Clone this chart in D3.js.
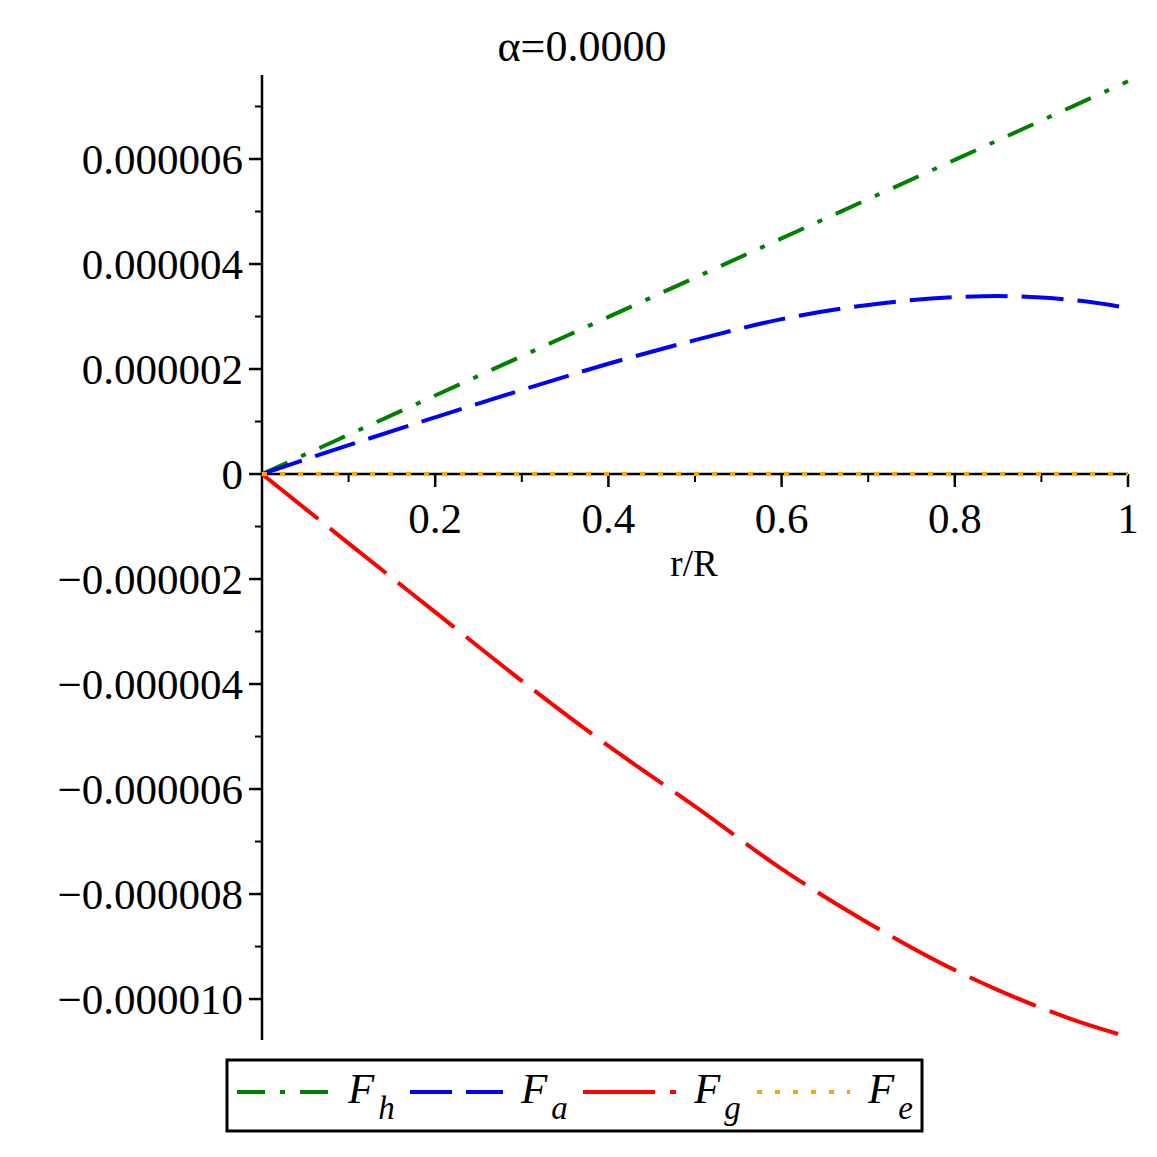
<!DOCTYPE html>
<html lang="en">
<head>
<meta charset="utf-8">
<title>alpha plot</title>
<script src="https://d3js.org/d3.v7.min.js"></script>
<style>
  body { margin: 0; background: #fff; }
  text { font-family: "Liberation Serif", "Times New Roman", serif; fill: #000; }
</style>
</head>
<body>
<div id="dataviz"></div>
<script>
// values (forces in units of 1, scaled by 1e-6 below)
var rVals = [0, 0.1, 0.2, 0.3, 0.4, 0.5, 0.6, 0.7, 0.8, 0.85, 0.9, 0.95, 1.0];
var Fh = [0, 0.748, 1.496, 2.244, 2.992, 3.74, 4.488, 5.236, 5.984, 6.358, 6.732, 7.106, 7.48];
var Fa = [0, 0.55, 1.08, 1.6, 2.1, 2.55, 2.95, 3.22, 3.37, 3.39, 3.36, 3.29, 3.16];
var Fg = [0, -1.32, -2.63, -3.94, -5.18, -6.33, -7.52, -8.55, -9.45, -9.83, -10.17, -10.47, -10.72];
var Fe = [0, 0, 0, 0, 0, 0, 0, 0, 0, 0, 0, 0, 0];

var yMajor = [-10, -8, -6, -4, -2, 0, 2, 4, 6];
var yMinor = [-9, -7, -5, -3, -1, 1, 3, 5, 7];
var xMajor = [0.2, 0.4, 0.6, 0.8, 1];
var xMinor = [0.1, 0.3, 0.5, 0.7, 0.9];

var seriesNames = ["F_h", "F_a", "F_g", "F_e"];
var seriesColors = ["#008000", "#0000ff", "#ff0000", "#ffa500"];
var seriesDash = ["28,15,5,15", "42,14", "72,15", "5,13"];

var W = 1157, H = 1157;
var svg = d3.select("#dataviz").append("svg")
    .attr("width", W).attr("height", H);

var x = d3.scaleLinear().domain([0, 1]).range([262, 1128]);
var y = d3.scaleLinear().domain([-10.78e-6, 7.6e-6]).range([1040, 75]);

// title
svg.append("text")
    .attr("x", 582).attr("y", 61)
    .attr("text-anchor", "middle")
    .style("font-size", "44px")
    .text("\u03b1=0.0000");

// y axis
var fmtY = function (v) {
    if (v === 0) return "0";
    var s = Math.abs(v * 1e-6).toFixed(6);
    return (v < 0 ? "\u2212" : "") + s;
};
var yAxis = svg.append("g").attr("transform", "translate(" + x(0) + ",0)");
yAxis.append("line")
    .attr("y1", y.range()[1]).attr("y2", y.range()[0])
    .attr("stroke", "#000").attr("stroke-width", 2.5);
yAxis.selectAll(".ymaj").data(yMajor).enter().append("line")
    .attr("x1", -13).attr("x2", 0)
    .attr("y1", function (d) { return y(d * 1e-6); })
    .attr("y2", function (d) { return y(d * 1e-6); })
    .attr("stroke", "#000").attr("stroke-width", 2.5);
yAxis.selectAll(".ymin").data(yMinor).enter().append("line")
    .attr("x1", -7).attr("x2", 0)
    .attr("y1", function (d) { return y(d * 1e-6); })
    .attr("y2", function (d) { return y(d * 1e-6); })
    .attr("stroke", "#000").attr("stroke-width", 2);
yAxis.selectAll(".ylab").data(yMajor).enter().append("text")
    .attr("x", -19)
    .attr("y", function (d) { return y(d * 1e-6); })
    .attr("dy", "0.34em")
    .attr("text-anchor", "end")
    .style("font-size", "43px")
    .text(fmtY);

// x axis
var xAxis = svg.append("g").attr("transform", "translate(0," + y(0) + ")");
xAxis.append("line")
    .attr("x1", x(0)).attr("x2", x(1))
    .attr("stroke", "#000").attr("stroke-width", 2.5);
xAxis.selectAll(".xmaj").data(xMajor).enter().append("line")
    .attr("x1", function (d) { return x(d); })
    .attr("x2", function (d) { return x(d); })
    .attr("y1", 0).attr("y2", 13)
    .attr("stroke", "#000").attr("stroke-width", 2.5);
xAxis.selectAll(".xmin").data(xMinor).enter().append("line")
    .attr("x1", function (d) { return x(d); })
    .attr("x2", function (d) { return x(d); })
    .attr("y1", 0).attr("y2", 8)
    .attr("stroke", "#000").attr("stroke-width", 2);
xAxis.selectAll(".xlab").data(xMajor).enter().append("text")
    .attr("x", function (d) { return x(d); })
    .attr("y", 59)
    .attr("text-anchor", "middle")
    .style("font-size", "43px")
    .text(function (d) { return d === 1 ? "1" : d.toFixed(1); });
svg.append("text")
    .attr("x", 694).attr("y", 576)
    .attr("text-anchor", "middle")
    .style("font-size", "37px")
    .text("r/R");

// curves
var allSeries = [Fh, Fa, Fg, Fe];
var line = d3.line()
    .x(function (d, i) { return x(rVals[i]); })
    .y(function (d) { return y(d * 1e-6); })
    .curve(d3.curveMonotoneX);

svg.selectAll(".curve").data(allSeries).enter().append("path")
    .attr("d", function (d) { return line(d); })
    .attr("fill", "none")
    .attr("stroke", function (d, i) { return seriesColors[i]; })
    .attr("stroke-width", 4)
    .attr("stroke-dasharray", function (d, i) { return seriesDash[i]; });

// legend
var legend = svg.append("g");
legend.append("rect")
    .attr("x", 227).attr("y", 1060)
    .attr("width", 695).attr("height", 71)
    .attr("fill", "none").attr("stroke", "#000").attr("stroke-width", 3);

var legX = [237, 410, 583, 757];
seriesNames.forEach(function (name, i) {
    var g = legend.append("g");
    g.append("line")
        .attr("x1", legX[i]).attr("x2", legX[i] + 93)
        .attr("y1", 1092).attr("y2", 1092)
        .attr("stroke", seriesColors[i])
        .attr("stroke-width", 4)
        .attr("stroke-dasharray", seriesDash[i]);
    var parts = name.split("_");
    var t = g.append("text")
        .attr("x", legX[i] + 111).attr("y", 1103)
        .style("font-size", "43px")
        .style("font-style", "italic");
    t.append("tspan").text(parts[0]);
    t.append("tspan")
        .attr("dx", 4).attr("dy", 16)
        .style("font-size", "33px")
        .text(parts[1]);
});
</script>
</body>
</html>
